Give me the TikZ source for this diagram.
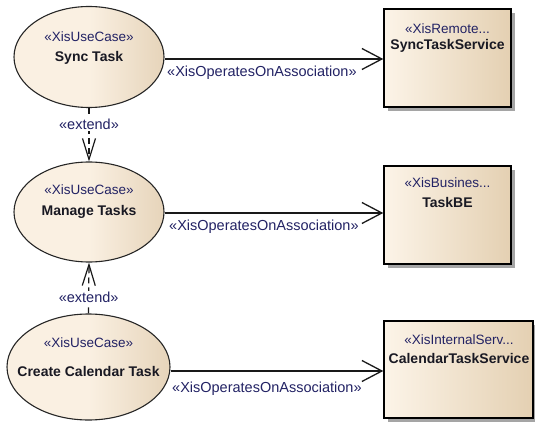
\documentclass[tikz,border=0pt]{standalone}
\usepackage{fontspec}
\setmainfont{Liberation Sans}
\usetikzlibrary{arrows.meta,shapes.geometric,calc}
\definecolor{stereo}{RGB}{34,34,100}
\definecolor{nametext}{RGB}{25,25,35}
\definecolor{ucLight}{RGB}{250,240,226}
\definecolor{ucDark}{RGB}{230,212,186}
\definecolor{bxLight}{RGB}{252,244,232}
\definecolor{bxDark}{RGB}{228,208,178}
\definecolor{shadowgrey}{RGB}{165,165,165}
\tikzset{
  usecase/.style={ellipse, draw=black!85, line width=1.1pt, left color=ucLight, right color=ucDark, middle color=ucLight, inner sep=0pt},
  classbox/.style={rectangle, draw=black, line width=1.4pt, left color=bxLight, right color=bxDark, inner sep=0pt},
  sttext/.style={text=stereo, font=\fontsize{13.5}{16}\selectfont, inner sep=0pt},
  nmtext/.style={text=nametext, font=\fontsize{14}{16}\selectfont\bfseries, inner sep=0pt},
  assoc/.style={draw=black!90, line width=1.3pt, -{Straight Barb[length=20pt,width=21pt,line width=1.3pt]}},
  extendarrow/.style={draw=black!90, line width=1.2pt, dash pattern=on 6pt off 4pt, -{Straight Barb[length=21pt,width=13pt,line width=1.2pt]}},
  conlabel/.style={text=stereo, font=\fontsize{14.5}{16}\selectfont, inner sep=0pt},
  extlabel/.style={text=stereo, font=\fontsize{14.5}{16}\selectfont, fill=white, inner sep=1.5pt}
}
\begin{document}
\begin{tikzpicture}[x=1pt,y=-1pt]
\useasboundingbox (0,0) rectangle (535,422);
% use cases
\node[usecase, minimum width=150pt, minimum height=101pt] (sync) at (89,57) {};
\node[usecase, minimum width=150pt, minimum height=100pt] (manage) at (89,212) {};
\node[usecase, minimum width=163pt, minimum height=106pt] (create) at (88.5,367) {};
\node[sttext] (syncst) at (89,37) {«XisUseCase»};
\node[nmtext] (syncnm) at (89,58) {Sync Task};
\node[sttext] (managest) at (89,190) {«XisUseCase»};
\node[nmtext] (managenm) at (89,212) {Manage Tasks};
\node[sttext] (createst) at (88.5,343) {«XisUseCase»};
\node[nmtext] (createnm) at (88.5,371) {Create Calendar Task};
% shadows
\fill[shadowgrey] (388,13) rectangle (515,111);
\fill[shadowgrey] (388,170) rectangle (515,268);
\fill[shadowgrey] (388,325) rectangle (537,422);
% boxes
\node[classbox, minimum width=127pt, minimum height=98pt] (syncsvc) at (447.5,58) {};
\node[classbox, minimum width=127pt, minimum height=98pt] (taskbe) at (447.5,215) {};
\node[classbox, minimum width=149pt, minimum height=97pt] (calsvc) at (458.5,369.5) {};
\node[sttext] (syncsvcst) at (447.5,29) {«XisRemote...};
\node[nmtext] (syncsvcnm) at (447.5,46) {SyncTaskService};
\node[sttext] (taskbest) at (447.5,183) {«XisBusines...};
\node[nmtext] (taskbenm) at (447.5,202) {TaskBE};
\node[sttext] (calsvcst) at (459,340) {«XisInternalServ...};
\node[nmtext] (calsvcnm) at (459,358) {CalendarTaskService};
% associations
\draw[assoc] (sync.east) ++(0,2) coordinate (a1) -- (syncsvc.west |- a1);
\draw[assoc] (manage.east) ++(0,1) coordinate (a2) -- (taskbe.west |- a2);
\draw[assoc] (create.east) ++(0,4) coordinate (a3) -- (calsvc.west |- a3);
\node[conlabel, anchor=west] (l1) at (167,73) {«XisOperatesOnAssociation»};
\node[conlabel, anchor=west] (l2) at (169,227) {«XisOperatesOnAssociation»};
\node[conlabel, anchor=west] (l3) at (172,389) {«XisOperatesOnAssociation»};
% extends
\draw[extendarrow] (sync.south) -- node[extlabel, pos=0.31] (e1) {«extend»} (manage.north);
\draw[extendarrow] (create.north) -- node[extlabel, pos=0.31] (e2) {«extend»} (manage.south);
\end{tikzpicture}
\end{document}
